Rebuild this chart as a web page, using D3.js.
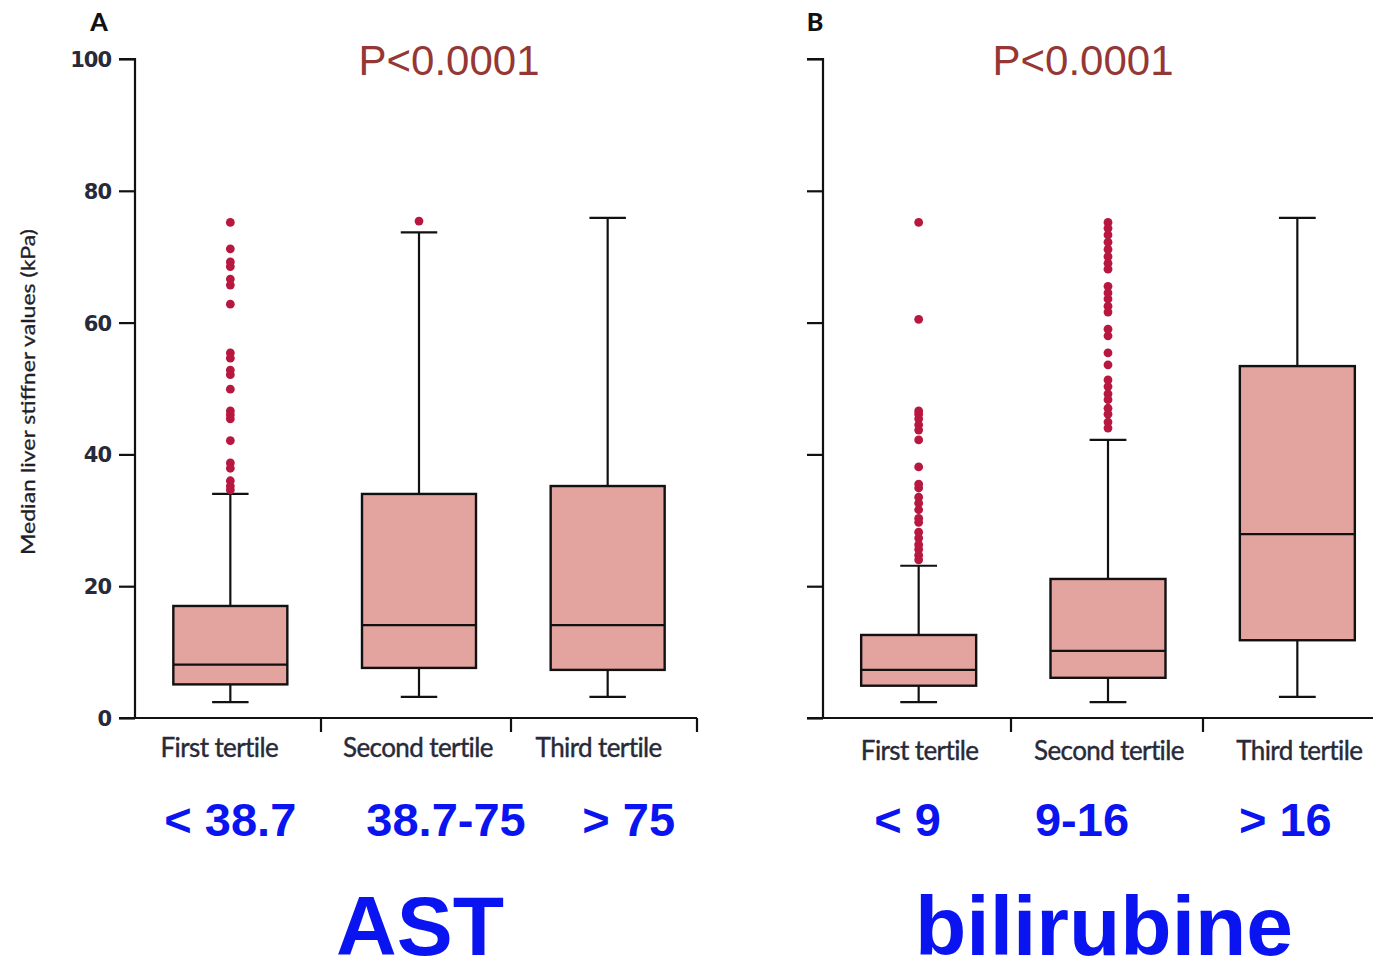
<!DOCTYPE html>
<html>
<head>
<meta charset="utf-8">
<script src="https://cdn.jsdelivr.net/npm/d3@7"></script>
<style>
  html, body { margin: 0; padding: 0; background: #fff; }
  svg { display: block; }
</style>
</head>
<body>
<svg id="chart" width="1373" height="962"></svg>
<script>
// Tertile groups
const categories = ["First tertile", "Second tertile", "Third tertile"];
const yTicks = [0, 20, 40, 60, 80, 100];

// AST panel: box statistics per tertile (kPa)
const astRanges = ["< 38.7", "38.7-75", "> 75"];
const astLow    = [2.4, 3.2, 3.2];
const astQ1     = [5.1, 7.6, 7.3];
const astMedian = [8.1, 14.1, 14.1];
const astQ3     = [17.0, 34.0, 35.2];
const astHigh   = [34.0, 73.7, 75.9];
const astOutliers = [
  [75.2, 71.2, 69.2, 68.5, 66.6, 65.7, 62.8, 55.4, 54.6, 52.8, 52.1, 49.9, 46.6, 46.0, 45.4, 42.1, 38.7, 37.9, 36.0, 35.2, 34.6],
  [75.4],
  []
];

// Bilirubine panel: box statistics per tertile (kPa)
const biliRanges = ["< 9", "9-16", "> 16"];
const biliLow    = [2.4, 2.4, 3.2];
const biliQ1     = [4.9, 6.1, 11.8];
const biliMedian = [7.3, 10.2, 27.9];
const biliQ3     = [12.6, 21.1, 53.4];
const biliHigh   = [23.1, 42.2, 75.9];
const biliOutliers = [
  [75.2, 60.5, 46.6, 46.1, 45.4, 44.5, 43.7, 42.2, 38.1, 35.5, 34.9, 33.5, 32.6, 31.6, 30.3, 29.7, 28.2, 27.3, 26.3, 25.6, 24.7, 24.0],
  [75.2, 74.3, 73.3, 72.2, 71.1, 70.0, 69.0, 68.1, 65.5, 64.5, 63.6, 62.5, 61.6, 59.0, 58.0, 55.4, 53.6, 51.3, 50.3, 49.2, 48.3, 47.0, 46.1, 44.9, 44.0],
  []
];

const svg = d3.select("#chart");
const y = d3.scaleLinear().domain([0, 100]).range([718, 59]);

const BOX_FILL = "#e3a39f";
const DOT_COL = "#b8173f";
const LABEL_COL = "#272a38";
const BLUE = "#0a14f0";

function panel(opt) {
  const g = svg.append("g");
  const x = d3.scaleBand().domain(categories).range(opt.range).padding(0);
  const bw = x.bandwidth();
  const boxW = opt.boxW;
  const capW = boxW * 0.32;

  // y axis
  const yAxis = d3.axisLeft(y).tickValues(yTicks).tickSize(16).tickPadding(8)
    .tickFormat(opt.showTickLabels ? d3.format("d") : () => "");
  const ya = g.append("g").attr("transform", `translate(${opt.axisX},0)`).call(yAxis);
  ya.select(".domain").attr("stroke", "#111").attr("stroke-width", 2.2)
    .attr("d", `M-16,${y(100)}H0V${y(0)}`);
  ya.selectAll(".tick line").attr("stroke", "#111").attr("stroke-width", 2.2);
  ya.selectAll(".tick text")
    .attr("fill", LABEL_COL)
    .attr("dy", "0.36em")
    .style("font-family", "'DejaVu Sans', Lato, sans-serif")
    .style("font-weight", "bold")
    .style("font-size", "21px")
    .style("letter-spacing", "-1px");

  // x axis baseline with separators between tertiles
  g.append("line")
    .attr("x1", opt.axisX - 16).attr("x2", opt.xEnd)
    .attr("y1", y(0)).attr("y2", y(0))
    .attr("stroke", "#111").attr("stroke-width", 2.2);
  g.selectAll(".sep").data(opt.seps).join("line")
    .attr("x1", d => d).attr("x2", d => d)
    .attr("y1", y(0)).attr("y2", y(0) + 14)
    .attr("stroke", "#111").attr("stroke-width", 2.2);

  // category labels
  g.selectAll(".cat").data(categories).join("text")
    .attr("x", (d, i) => x(d) + bw / 2 + opt.catShift[i])
    .attr("y", opt.catY)
    .attr("text-anchor", "middle")
    .attr("fill", LABEL_COL)
    .style("font-family", "Lato, 'Open Sans', sans-serif")
    .style("font-size", "26px")
    .style("letter-spacing", "-0.6px")
    .style("stroke", LABEL_COL)
    .style("stroke-width", "0.4px")
    .text(d => d);

  // boxes
  categories.forEach((c, i) => {
    const cx = x(c) + bw / 2;
    const bg = g.append("g");
    // whiskers
    bg.append("line").attr("x1", cx).attr("x2", cx)
      .attr("y1", y(opt.high[i])).attr("y2", y(opt.q3[i]))
      .attr("stroke", "#111").attr("stroke-width", 2.2);
    bg.append("line").attr("x1", cx).attr("x2", cx)
      .attr("y1", y(opt.q1[i])).attr("y2", y(opt.low[i]))
      .attr("stroke", "#111").attr("stroke-width", 2.2);
    [opt.high[i], opt.low[i]].forEach(v => {
      bg.append("line").attr("x1", cx - capW / 2).attr("x2", cx + capW / 2)
        .attr("y1", y(v)).attr("y2", y(v))
        .attr("stroke", "#111").attr("stroke-width", 2.2);
    });
    // box
    bg.append("rect")
      .attr("x", cx - boxW / 2).attr("width", boxW)
      .attr("y", y(opt.q3[i])).attr("height", y(opt.q1[i]) - y(opt.q3[i]))
      .attr("fill", BOX_FILL).attr("stroke", "#111").attr("stroke-width", 2.4);
    bg.append("line")
      .attr("x1", cx - boxW / 2).attr("x2", cx + boxW / 2)
      .attr("y1", y(opt.median[i])).attr("y2", y(opt.median[i]))
      .attr("stroke", "#111").attr("stroke-width", 2.2);
    // outliers
    bg.selectAll("circle").data(opt.outliers[i]).join("circle")
      .attr("cx", cx).attr("cy", d => y(d)).attr("r", 4.4)
      .attr("fill", DOT_COL);
  });

  // range labels in blue
  g.selectAll(".rng").data(opt.ranges).join("text")
    .attr("x", (d, i) => x(categories[i]) + bw / 2 + opt.rangeShift[i])
    .attr("y", 836)
    .attr("text-anchor", "middle")
    .attr("fill", BLUE)
    .style("font-family", "'Liberation Sans', Arial, sans-serif")
    .style("font-weight", "bold")
    .style("font-size", "47px")
    .text(d => d);

  // panel letter
  g.append("text").attr("x", opt.letterX).attr("y", 31)
    .attr("text-anchor", "middle")
    .attr("fill", "#111")
    .style("font-family", "Lato, 'Open Sans', sans-serif")
    .style("font-weight", "900")
    .style("font-size", "25px")
    .text(opt.letter);

  // significance
  g.append("text").attr("x", opt.pX).attr("y", 75)
    .attr("text-anchor", "middle")
    .attr("fill", "#953735")
    .style("font-family", "'Liberation Sans', Arial, sans-serif")
    .style("font-size", "42px")
    .text("P<0.0001");

  // panel title
  g.append("text").attr("x", opt.titleX).attr("y", 955)
    .attr("text-anchor", "middle")
    .attr("fill", BLUE)
    .style("font-family", "'Liberation Sans', Arial, sans-serif")
    .style("font-weight", "bold")
    .style("font-size", "84px")
    .text(opt.title);
}

panel({
  range: [136, 702], axisX: 135, xEnd: 697, seps: [321, 511, 697], boxW: 114, showTickLabels: true,
  low: astLow, q1: astQ1, median: astMedian, q3: astQ3, high: astHigh, outliers: astOutliers,
  ranges: astRanges, rangeShift: [0, 27, 21], catShift: [-11, -1, -9], catY: 757,
  letter: "A", letterX: 99, pX: 449, title: "AST", titleX: 420
});

panel({
  range: [824, 1392], axisX: 823, xEnd: 1373, seps: [1011, 1203], boxW: 115, showTickLabels: false,
  low: biliLow, q1: biliQ1, median: biliMedian, q3: biliQ3, high: biliHigh, outliers: biliOutliers,
  ranges: biliRanges, rangeShift: [-11, -26, -12], catShift: [1, 1, 2], catY: 760,
  letter: "B", letterX: 815, pX: 1083, title: "bilirubine", titleX: 1104
});

// shared y-axis title
svg.append("text")
  .attr("transform", "translate(35,392) rotate(-90)")
  .attr("text-anchor", "middle")
  .attr("fill", "#1e1e28")
  .style("font-family", "Lato, 'Open Sans', sans-serif")
  .style("font-size", "19px")
  .style("stroke", "#1e1e28")
  .style("stroke-width", "0.3px")
  .attr("textLength", 326)
  .attr("lengthAdjust", "spacingAndGlyphs")
  .text("Median liver stiffner values (kPa)");
</script>
</body>
</html>
